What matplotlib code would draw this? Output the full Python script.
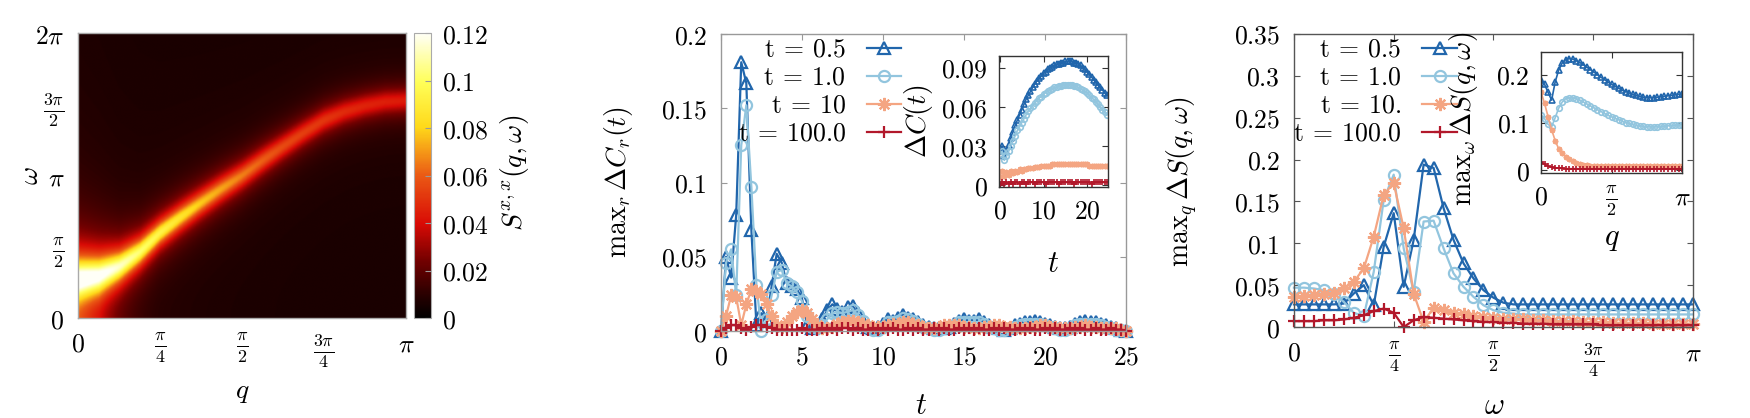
import numpy as np
import matplotlib
matplotlib.use('Agg')
from matplotlib import pyplot as plt
from matplotlib.colors import LinearSegmentedColormap

plt.rcParams['mathtext.fontset'] = 'cm'
plt.rcParams['font.family'] = 'serif'
plt.rcParams['font.serif'] = ['DejaVu Serif']

# ---------------- data ----------------
# heatmap: band centre, height and width read at q = k*pi/16
q_read = np.linspace(0, np.pi, 17)
omega_peak = [0.84, 0.92, 1.13, 1.45, 1.88, 2.22, 2.54, 2.85, 3.14,
              3.47, 3.78, 4.08, 4.36, 4.55, 4.68, 4.77, 4.80]
peak_height = [0.122, 0.115, 0.106, 0.096, 0.088, 0.080, 0.072, 0.066, 0.060,
               0.055, 0.050, 0.047, 0.045, 0.042, 0.040, 0.039, 0.038]
peak_width = [0.45, 0.40, 0.33, 0.29, 0.27, 0.27, 0.27, 0.27, 0.27,
              0.27, 0.27, 0.27, 0.27, 0.27, 0.27, 0.27, 0.27]
background = 0.006

labels_c = [r'$\mathrm{t}\:=\:0.5$', r'$\mathrm{t}\:=\:1.0$', r'$\mathrm{t}\:=\:10$', r'$\mathrm{t}\:=\:100.0$']
labels_s = [r'$\mathrm{t}\:=\:0.5$', r'$\mathrm{t}\:=\:1.0$', r'$\mathrm{t}\:=\:10.$', r'$\mathrm{t}\:=\:100.0$']
colors = ['#2166ac', '#92c5de', '#f4a582', '#b2182b']
markers = ['^', 'o', (8, 2, 0), '+']
msizes = [8, 8, 9.5, 9]

# middle panel, max_r dC_r(t)
t_main = np.linspace(0, 25, 81)
dc_05 = [0.000, 0.050, 0.036, 0.078, 0.181, 0.167, 0.068, 0.004, 0.012, 0.008,
         0.030, 0.052, 0.046, 0.032, 0.030, 0.028, 0.022, 0.004, 0.002, 0.004,
         0.008, 0.014, 0.018, 0.015, 0.013, 0.016, 0.017, 0.012, 0.007, 0.003,
         0.002, 0.003, 0.005, 0.008, 0.007, 0.009, 0.011, 0.009, 0.008, 0.006,
         0.004, 0.003, 0.002, 0.002, 0.002, 0.003, 0.005, 0.007, 0.008, 0.007,
         0.007, 0.008, 0.006, 0.004, 0.003, 0.002, 0.001, 0.002, 0.004, 0.005,
         0.006, 0.006, 0.007, 0.006, 0.005, 0.004, 0.003, 0.002, 0.002, 0.003,
         0.005, 0.006, 0.007, 0.006, 0.006, 0.005, 0.004, 0.003, 0.002, 0.001,
         0.000]
dc_10 = [0.000, 0.046, 0.055, 0.024, 0.125, 0.152, 0.097, 0.031, 0.000, 0.008,
         0.024, 0.040, 0.041, 0.032, 0.030, 0.026, 0.020, 0.010, 0.003, 0.002,
         0.004, 0.008, 0.012, 0.013, 0.012, 0.013, 0.014, 0.011, 0.007, 0.003,
         0.001, 0.001, 0.003, 0.006, 0.006, 0.007, 0.009, 0.008, 0.007, 0.005,
         0.003, 0.002, 0.001, 0.001, 0.002, 0.003, 0.004, 0.006, 0.006, 0.006,
         0.006, 0.006, 0.005, 0.003, 0.002, 0.001, 0.001, 0.002, 0.003, 0.004,
         0.005, 0.005, 0.005, 0.005, 0.004, 0.003, 0.002, 0.001, 0.001, 0.002,
         0.004, 0.005, 0.005, 0.005, 0.005, 0.004, 0.003, 0.002, 0.001, 0.001,
         0.000]
dc_100 = [0.000, 0.010, 0.024, 0.023, 0.004, 0.018, 0.028, 0.027, 0.025, 0.018,
          0.010, 0.004, 0.003, 0.006, 0.010, 0.013, 0.014, 0.012, 0.008, 0.004,
          0.002, 0.002, 0.003, 0.005, 0.006, 0.007, 0.007, 0.006, 0.005, 0.004,
          0.003, 0.003, 0.003, 0.004, 0.005, 0.005, 0.006, 0.006, 0.005, 0.004,
          0.003, 0.002, 0.002, 0.003, 0.004, 0.004, 0.004, 0.004, 0.003, 0.003,
          0.002, 0.002, 0.003, 0.003, 0.004, 0.004, 0.003, 0.003, 0.002, 0.002,
          0.002, 0.003, 0.003, 0.004, 0.004, 0.003, 0.003, 0.002, 0.002, 0.002,
          0.003, 0.003, 0.004, 0.003, 0.003, 0.002, 0.002, 0.002, 0.002, 0.001,
          0.000]
dc_1000 = [0.000, 0.002, 0.004, 0.004, 0.002, 0.001, 0.003, 0.004, 0.004, 0.003,
           0.002, 0.001, 0.001, 0.001, 0.001, 0.001, 0.002, 0.001, 0.001, 0.001,
           0.002, 0.001, 0.002, 0.001, 0.002, 0.002, 0.001, 0.002, 0.001, 0.001,
           0.002, 0.001, 0.002, 0.001, 0.002, 0.001, 0.001, 0.002, 0.001, 0.002,
           0.001, 0.001, 0.002, 0.001, 0.002, 0.001, 0.001, 0.002, 0.001, 0.002,
           0.001, 0.002, 0.001, 0.001, 0.002, 0.001, 0.002, 0.001, 0.001, 0.002,
           0.001, 0.002, 0.001, 0.001, 0.002, 0.001, 0.002, 0.001, 0.001, 0.002,
           0.001, 0.002, 0.001, 0.001, 0.002, 0.001, 0.001, 0.002, 0.001, 0.001,
           0.000]

# middle inset, dC(t)
t_ins = np.arange(0, 24.6, 0.5)
ci_05 = [0.026, 0.030, 0.022, 0.026, 0.031, 0.036, 0.041, 0.046, 0.050, 0.054,
         0.058, 0.062, 0.066, 0.069, 0.072, 0.075, 0.078, 0.080, 0.082, 0.084,
         0.086, 0.087, 0.089, 0.090, 0.091, 0.092, 0.093, 0.093, 0.094, 0.094,
         0.095, 0.095, 0.095, 0.095, 0.094, 0.094, 0.093, 0.092, 0.090, 0.089,
         0.087, 0.085, 0.083, 0.081, 0.079, 0.077, 0.075, 0.073, 0.071, 0.069]
ci_10 = [0.024, 0.026, 0.019, 0.022, 0.026, 0.030, 0.034, 0.038, 0.042, 0.045,
         0.048, 0.051, 0.054, 0.057, 0.059, 0.061, 0.063, 0.065, 0.067, 0.068,
         0.070, 0.071, 0.072, 0.073, 0.074, 0.075, 0.075, 0.076, 0.076, 0.077,
         0.077, 0.077, 0.077, 0.077, 0.076, 0.076, 0.075, 0.074, 0.073, 0.072,
         0.071, 0.069, 0.067, 0.066, 0.064, 0.062, 0.060, 0.058, 0.056, 0.054]
ci_100 = [0.006, 0.011, 0.007, 0.010, 0.008, 0.011, 0.009, 0.011, 0.010, 0.012,
          0.011, 0.012, 0.012, 0.013, 0.013, 0.013, 0.014, 0.014, 0.014, 0.015,
          0.015, 0.015, 0.015, 0.015, 0.016, 0.016, 0.016, 0.016, 0.016, 0.016,
          0.016, 0.016, 0.016, 0.016, 0.016, 0.016, 0.016, 0.016, 0.016, 0.016,
          0.016, 0.015, 0.015, 0.015, 0.015, 0.015, 0.015, 0.015, 0.015, 0.015]
ci_1000 = [0.000, 0.002, 0.001, 0.002, 0.001, 0.002, 0.001, 0.002, 0.002, 0.001,
           0.002, 0.002, 0.001, 0.002, 0.002, 0.002, 0.001, 0.002, 0.002, 0.002,
           0.002, 0.001, 0.002, 0.002, 0.002, 0.002, 0.002, 0.001, 0.002, 0.002,
           0.002, 0.002, 0.002, 0.002, 0.001, 0.002, 0.002, 0.002, 0.002, 0.002,
           0.002, 0.002, 0.001, 0.002, 0.002, 0.002, 0.002, 0.002, 0.002, 0.002]

# right panel, max_q dS(q, w)
w_main = np.linspace(0, np.pi, 41)
ds_05 = [0.027, 0.027, 0.027, 0.027, 0.027, 0.028, 0.040, 0.050, 0.026, 0.096,
         0.136, 0.048, 0.104, 0.194, 0.190, 0.142, 0.104, 0.076, 0.058, 0.044,
         0.035, 0.029, 0.027, 0.027, 0.027, 0.027, 0.027, 0.027, 0.027, 0.027,
         0.027, 0.027, 0.027, 0.027, 0.027, 0.027, 0.027, 0.027, 0.027, 0.027,
         0.027]
ds_10 = [0.047, 0.047, 0.046, 0.044, 0.040, 0.030, 0.017, 0.013, 0.066, 0.152,
         0.182, 0.094, 0.042, 0.126, 0.127, 0.094, 0.064, 0.048, 0.036, 0.026,
         0.020, 0.017, 0.016, 0.015, 0.015, 0.015, 0.015, 0.015, 0.015, 0.015,
         0.015, 0.015, 0.015, 0.015, 0.015, 0.015, 0.015, 0.015, 0.015, 0.015,
         0.015]
ds_100 = [0.036, 0.037, 0.038, 0.039, 0.041, 0.046, 0.054, 0.070, 0.108, 0.158,
          0.172, 0.118, 0.040, 0.006, 0.023, 0.020, 0.017, 0.015, 0.013, 0.012,
          0.011, 0.010, 0.009, 0.009, 0.008, 0.008, 0.007, 0.007, 0.007, 0.006,
          0.006, 0.006, 0.005, 0.005, 0.005, 0.005, 0.004, 0.004, 0.004, 0.004,
          0.004]
ds_1000 = [0.007, 0.007, 0.007, 0.008, 0.008, 0.009, 0.011, 0.014, 0.019, 0.022,
           0.017, 0.000, 0.008, 0.012, 0.011, 0.010, 0.009, 0.008, 0.007, 0.006,
           0.006, 0.005, 0.005, 0.004, 0.004, 0.004, 0.003, 0.003, 0.003, 0.003,
           0.003, 0.002, 0.002, 0.002, 0.002, 0.002, 0.002, 0.002, 0.002, 0.002,
           0.002]

# right inset, max_w dS(q, w)
q_ins = np.linspace(0, np.pi, 41)
si_05 = [0.190, 0.180, 0.163, 0.147, 0.185, 0.210, 0.225, 0.232, 0.234, 0.233,
         0.230, 0.226, 0.221, 0.216, 0.211, 0.206, 0.200, 0.195, 0.190, 0.185,
         0.180, 0.176, 0.172, 0.168, 0.165, 0.162, 0.159, 0.157, 0.155, 0.153,
         0.152, 0.152, 0.152, 0.153, 0.154, 0.155, 0.156, 0.157, 0.158, 0.159,
         0.160]
si_10 = [0.116, 0.108, 0.096, 0.091, 0.110, 0.130, 0.143, 0.150, 0.152, 0.152,
         0.150, 0.147, 0.143, 0.139, 0.135, 0.131, 0.127, 0.123, 0.119, 0.115,
         0.112, 0.109, 0.106, 0.103, 0.100, 0.098, 0.096, 0.094, 0.093, 0.092,
         0.091, 0.091, 0.091, 0.091, 0.092, 0.092, 0.093, 0.094, 0.094, 0.095,
         0.095]
si_100 = [0.164, 0.140, 0.112, 0.085, 0.062, 0.045, 0.036, 0.028, 0.023, 0.019,
          0.016, 0.013, 0.011, 0.010, 0.009, 0.009, 0.008, 0.008, 0.008, 0.008,
          0.008, 0.008, 0.008, 0.008, 0.008, 0.008, 0.008, 0.008, 0.008, 0.008,
          0.008, 0.008, 0.008, 0.008, 0.008, 0.008, 0.008, 0.008, 0.008, 0.008,
          0.008]
si_1000 = [0.017, 0.012, 0.008, 0.006, 0.005, 0.004, 0.004, 0.003, 0.003, 0.003,
           0.003, 0.003, 0.002, 0.002, 0.002, 0.002, 0.002, 0.002, 0.002, 0.002,
           0.002, 0.002, 0.002, 0.002, 0.002, 0.002, 0.002, 0.002, 0.002, 0.002,
           0.002, 0.002, 0.002, 0.002, 0.002, 0.002, 0.002, 0.002, 0.002, 0.002,
           0.002]

FS = 18.5
LFS = 20
pi_ticks_q = [0, np.pi / 4, np.pi / 2, 3 * np.pi / 4, np.pi]
pi_labels_q = ['$0$', r'$\frac{\pi}{4}$', r'$\frac{\pi}{2}$', r'$\frac{3\pi}{4}$', r'$\pi$']


def style(ax, spine='#777777', pad=9):
    ax.tick_params(which='both', direction='in', top=True, right=True, length=4,
                   color=spine, labelsize=FS, pad=pad)
    for s in ax.spines.values():
        s.set_color(spine)
        s.set_linewidth(1.0)


def num_labels(vals):
    return ['$%g$' % v for v in vals]


fig = plt.figure(figsize=(17.5, 4.18), dpi=100)

# ---------------- left: heatmap ----------------
ax1 = fig.add_axes([0.0446, 0.2392, 0.1874, 0.6818])
qq = np.linspace(0, np.pi, 400)
ww = np.linspace(0, 2 * np.pi, 400)
w0 = np.interp(qq, q_read, omega_peak)
amp = np.interp(qq, q_read, peak_height)
wid = np.interp(qq, q_read, peak_width)
W, _ = np.meshgrid(ww, qq, indexing='ij')
field = background + amp / (1 + ((W - w0) / wid) ** 2) + amp / (1 + ((W + w0) / wid) ** 2)

cmap = LinearSegmentedColormap.from_list('gp', [
    (0.0, (0, 0, 0)), (0.08, (0.16, 0.0, 0.0)), (0.2, (0.45, 0.0, 0.0)),
    (0.33, (0.85, 0.04, 0.02)), (0.5, (0.92, 0.35, 0.08)), (0.67, (1.0, 0.85, 0.1)),
    (0.83, (1.0, 1.0, 0.35)), (1.0, (1.0, 1.0, 0.97))])
im = ax1.imshow(field, origin='lower', extent=[0, np.pi, 0, 2 * np.pi], aspect='auto',
                cmap=cmap, vmin=0, vmax=0.12, interpolation='bilinear')
style(ax1, '#aaaaaa', pad=10)
ax1.tick_params(length=0)
ax1.set_xticks(pi_ticks_q, pi_labels_q)
ax1.set_yticks([0, np.pi / 2, np.pi, 3 * np.pi / 2, 2 * np.pi],
               ['$0$', r'$\frac{\pi}{2}$', r'$\pi$', r'$\frac{3\pi}{2}$', r'$2\pi$'])
ax1.set_xlabel(r'$q$', fontsize=LFS)
ax1.xaxis.set_label_coords(0.5, -0.21)
ax1.set_ylabel(r'$\omega$', fontsize=LFS)
ax1.yaxis.set_label_coords(-0.104, 0.5)

cax = fig.add_axes([0.2366, 0.2392, 0.0097, 0.6818])
cb = fig.colorbar(im, cax=cax, ticks=[0, 0.02, 0.04, 0.06, 0.08, 0.1, 0.12])
cb.ax.set_yticklabels(num_labels([0, 0.02, 0.04, 0.06, 0.08, 0.1, 0.12]))
cb.outline.set_edgecolor('#aaaaaa')
cb.ax.tick_params(direction='in', length=4, color='#999999', labelsize=FS, pad=8)
cb.set_label(r'$S^{x,x}(q,\omega)$', fontsize=LFS)
cb.ax.yaxis.set_label_coords(4.94, 0.51)

# ---------------- middle: max_r dC_r(t) ----------------
ax2 = fig.add_axes([0.4120, 0.2081, 0.2314, 0.7105])
for y, lab, c, m, s in zip([dc_05, dc_10, dc_100, dc_1000], labels_c, colors, markers, msizes):
    ax2.plot(t_main, y, color=c, marker=m, ms=s, mfc='none', mew=1.6, lw=1.6,
             label=lab, clip_on=False)
ax2.set_xlim(0, 25)
ax2.set_ylim(0, 0.2)
style(ax2, '#999999', pad=10)
ax2.set_xticks([0, 5, 10, 15, 20, 25], num_labels([0, 5, 10, 15, 20, 25]))
ax2.set_yticks([0, 0.05, 0.1, 0.15, 0.2], num_labels([0, 0.05, 0.1, 0.15, 0.2]))
ax2.set_xlabel(r'$t$', fontsize=LFS + 2)
ax2.xaxis.set_label_coords(0.494, -0.199)
ax2.set_ylabel(r'$\mathrm{max}_r\,\Delta C_r(t)$', fontsize=LFS)
ax2.yaxis.set_label_coords(-0.212, 0.5)
ax2.legend(loc='upper right', bbox_to_anchor=(0.452, 1.0), frameon=False, markerfirst=False,
           fontsize=FS, handlelength=1.35, handletextpad=0.8, labelspacing=0.12,
           borderpad=0.1, borderaxespad=0)

ax2i = fig.add_axes([0.5709, 0.5526, 0.0623, 0.3134])
for y, c, m in zip([ci_05, ci_10, ci_100, ci_1000], colors, markers):
    ax2i.plot(t_ins, y, color=c, marker=m, ms=4, mfc='none', mew=1.2, lw=1.2)
ax2i.set_xlim(-0.2, 24.8)
ax2i.set_ylim(-0.0015, 0.0992)
style(ax2i, '#333333', pad=8)
ax2i.set_xticks([0, 10, 20], num_labels([0, 10, 20]))
ax2i.set_yticks([0, 0.03, 0.06, 0.09], num_labels([0, 0.03, 0.06, 0.09]))
ax2i.set_xlabel(r'$t$', fontsize=LFS + 2)
ax2i.xaxis.set_label_coords(0.495, -0.466)
ax2i.set_ylabel(r'$\Delta C(t)$', fontsize=LFS)
ax2i.yaxis.set_label_coords(-0.587, 0.5)

# ---------------- right: max_q dS(q, w) ----------------
ax3 = fig.add_axes([0.7394, 0.2177, 0.2280, 0.7010])
for y, lab, c, m, s in zip([ds_05, ds_10, ds_100, ds_1000], labels_s, colors, markers, msizes):
    ax3.plot(w_main, y, color=c, marker=m, ms=s, mfc='none', mew=1.6, lw=1.6,
             label=lab, clip_on=False)
ax3.set_xlim(0, np.pi)
ax3.set_ylim(0, 0.35)
style(ax3, '#555555', pad=10)
ax3.set_xticks(pi_ticks_q, pi_labels_q)
ax3.set_yticks([0, 0.05, 0.1, 0.15, 0.2, 0.25, 0.3, 0.35],
               num_labels([0, 0.05, 0.1, 0.15, 0.2, 0.25, 0.3, 0.35]))
ax3.set_xlabel(r'$\omega$', fontsize=LFS + 2)
ax3.xaxis.set_label_coords(0.501, -0.215)
ax3.set_ylabel(r'$\mathrm{max}_q\,\Delta S(q,\omega)$', fontsize=LFS)
ax3.yaxis.set_label_coords(-0.236, 0.495)
ax3.legend(loc='upper right', bbox_to_anchor=(0.415, 1.0), frameon=False, markerfirst=False,
           fontsize=FS, handlelength=1.35, handletextpad=0.8, labelspacing=0.12,
           borderpad=0.1, borderaxespad=0)

ax3i = fig.add_axes([0.8806, 0.5861, 0.0806, 0.2895])
for y, c, m in zip([si_05, si_10, si_100, si_1000], colors, markers):
    ax3i.plot(q_ins, y, color=c, marker=m, ms=4, mfc='none', mew=1.2, lw=1.2)
ax3i.set_xlim(0, np.pi)
ax3i.set_ylim(-0.006, 0.248)
style(ax3i, '#333333', pad=8)
ax3i.set_xticks([0, np.pi / 2, np.pi], ['$0$', r'$\frac{\pi}{2}$', r'$\pi$'])
ax3i.set_yticks([0, 0.1, 0.2], num_labels([0, 0.1, 0.2]))
ax3i.set_xlabel(r'$q$', fontsize=LFS + 2)
ax3i.xaxis.set_label_coords(0.504, -0.405)
ax3i.set_ylabel(r'$\mathrm{max}_\omega\,\Delta S(q,\omega)$', fontsize=LFS)
ax3i.yaxis.set_label_coords(-0.433, 0.446)

fig.savefig('out.png', dpi=100)
